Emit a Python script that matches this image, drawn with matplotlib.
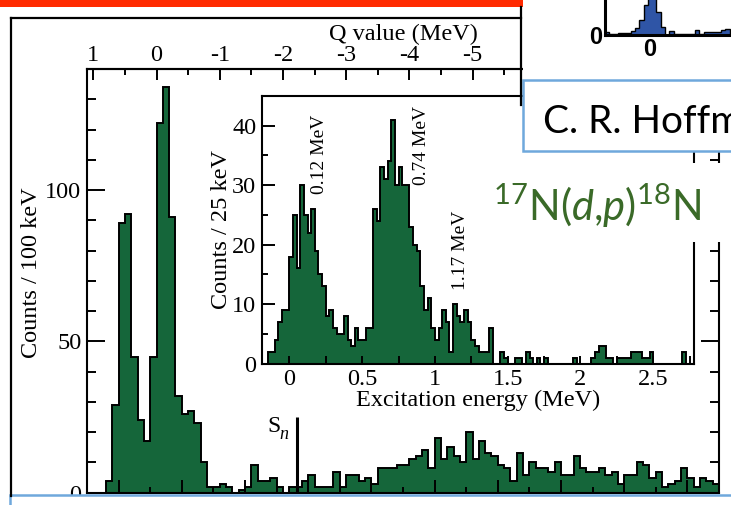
import numpy as np
import matplotlib
matplotlib.use("Agg")
import matplotlib.pyplot as plt
from matplotlib.patches import Rectangle
from matplotlib.ticker import MultipleLocator, FuncFormatter

# ===== 数据 =====
# 主谱：100 keV 一格，从 Ex = -0.2 MeV 开始
MAIN_START = -0.2
MAIN_WIDTH = 0.1
main_counts = [4, 29, 89, 92, 45, 24, 17, 45, 122, 134,
               91, 32, 26, 27, 23, 10, 2, 2, 3, 2,
               0, 1, 2, 9, 4, 4, 5, 2, 0, 2,
               2, 4, 6, 2, 2, 2, 7, 2, 6, 6,
               4, 5, 3, 8, 8, 8, 9, 9, 11, 12,
               14, 8, 18, 11, 15, 12, 10, 20, 11, 17,
               13, 12, 9, 8, 4, 13, 6, 10, 8, 8,
               7, 10, 6, 6, 12, 8, 7, 7, 8, 6,
               7, 3, 6, 6, 10, 9, 5, 7, 2, 3,
               4, 8, 5, 2, 5, 4, 3]

# 插图：25 keV 一格，从 Ex = -0.15 MeV 开始
INSET_START = -0.15
INSET_WIDTH = 0.025
inset_counts = [2, 2, 4, 7, 9, 9, 18, 25, 16, 30,
                25, 22, 26, 19, 15, 13, 8, 9, 6, 5,
                5, 8, 4, 3, 6, 4, 4, 6, 6, 26,
                24, 33, 31, 34, 41, 30, 33, 30, 30, 23,
                20, 19, 13, 9, 11, 6, 4, 6, 9, 7,
                2, 10, 8, 7, 9, 7, 4, 3, 2, 2,
                2, 6, 0, 0, 2, 1, 0, 0, 1, 1,
                0, 2, 1, 0, 1, 0, 1, 0, 0, 0,
                0, 0, 0, 0, 1, 0, 0, 0, 0, 1,
                2, 3, 3, 1, 1, 0, 1, 1, 1, 1,
                2, 2, 2, 1, 1, 2, 0, 0, 0, 0,
                0, 0, 0, 0, 2, 0]

# 右上角蓝色小谱（截图残片）
BLUE_START = -10.5
blue_counts = [3, 1, 1, 2, 2, 2, 4, 7, 15, 30,
               45, 45, 23, 8, 0, 4, 1, 1, 1, 1,
               1, 5, 1, 3, 3, 3, 3, 5, 6]

Q_GS = 0.6          # 基态 Q 值 (MeV)
SN_ENERGY = 2.83    # 中子分离能
SN_HEIGHT = 25

peak_labels = ["0.12 MeV", "0.74 MeV", "1.17 MeV"]
peak_label_x = [0.21, 0.91, 1.175]
peak_label_y = [28.5, 30.0, 12.3]

GREEN = "#15663a"
W, H = 731, 505

plt.rcParams['font.family'] = ['Liberation Serif', 'DejaVu Serif']
plt.rcParams['axes.unicode_minus'] = False
plt.rcParams['mathtext.fontset'] = 'custom'
plt.rcParams['mathtext.rm'] = 'Lato'
plt.rcParams['mathtext.it'] = 'Lato:italic'
plt.rcParams['mathtext.bf'] = 'Lato:bold'

fig = plt.figure(figsize=(W / 100, H / 100), dpi=100)
fs = 17.5

# ===== 主图 =====
ax = fig.add_axes([87 / W, 12.3 / H, 632 / W, 423.7 / H], zorder=1)
edges = MAIN_START + MAIN_WIDTH * np.arange(len(main_counts) + 1)
ax.stairs(main_counts, edges, fill=True, facecolor=GREEN, edgecolor='black', linewidth=1.4)
ax.vlines(SN_ENERGY, 0, SN_HEIGHT, color='black', linewidth=2.2)
ax.text(2.46, 21.9, "S", fontsize=17, ha='center', va='center')
ax.text(2.615, 19.2, "n", fontsize=13, style='italic', ha='center', va='center')
ax.set_xlim(-0.5, 9.5)
ax.set_ylim(0, 140)
for s in ax.spines.values():
    s.set_linewidth(1.5)
ax.xaxis.set_major_locator(MultipleLocator(1))
ax.xaxis.set_minor_locator(MultipleLocator(0.5))
ax.yaxis.set_major_locator(MultipleLocator(50))
ax.yaxis.set_minor_locator(MultipleLocator(10))
ax.tick_params(axis='x', which='both', direction='in', labelbottom=False, width=1.4)
ax.tick_params(axis='x', which='major', length=9.5)
ax.tick_params(axis='x', which='minor', length=4.5)
ax.tick_params(axis='y', which='both', direction='in', right=True, width=1.4,
               labelsize=fs, pad=4)
ax.tick_params(axis='y', which='major', length=13)
ax.tick_params(axis='y', which='minor', length=6.5)
ax.set_ylabel("Counts / 100 keV", fontsize=fs)
ax.yaxis.set_label_coords(-0.071, 0.52)

sec = ax.secondary_xaxis('top', functions=(lambda e: Q_GS - e, lambda q: Q_GS - q))
sec.xaxis.set_major_locator(MultipleLocator(1))
sec.xaxis.set_minor_locator(MultipleLocator(0.5))
sec.xaxis.set_major_formatter(FuncFormatter(lambda v, p: f"{int(round(v))}"))
sec.tick_params(which='both', direction='in', width=1.4, labelsize=fs, pad=2)
sec.tick_params(which='major', length=8)
sec.tick_params(which='minor', length=4)
sec.spines['top'].set_linewidth(1.5)
sec.set_xlabel("Q value (MeV)", fontsize=fs, labelpad=4)

# ===== 插图 =====
ins = fig.add_axes([261.7 / W, (H - 363.5) / H, 432.3 / W, 267.5 / H], zorder=2)
ins.set_facecolor('white')
iedges = INSET_START + INSET_WIDTH * np.arange(len(inset_counts) + 1)
ins.stairs(inset_counts, iedges, fill=True, facecolor=GREEN, edgecolor='black', linewidth=1.4)
ins.set_xlim(-0.19, 2.78)
ins.set_ylim(0, 45)
for s in ins.spines.values():
    s.set_linewidth(1.5)
ins.xaxis.set_major_locator(MultipleLocator(0.5))
ins.xaxis.set_minor_locator(MultipleLocator(0.25))
ins.xaxis.set_major_formatter(FuncFormatter(lambda v, p: f"{v:g}"))
ins.yaxis.set_major_locator(MultipleLocator(10))
ins.yaxis.set_minor_locator(MultipleLocator(5))
ins.tick_params(which='both', direction='in', width=1.4, labelsize=fs, pad=4)
ins.tick_params(axis='x', which='both', length=6)
ins.tick_params(axis='y', which='major', length=9)
ins.tick_params(axis='y', which='minor', length=4.5)
ins.set_xlabel("Excitation energy (MeV)", fontsize=fs, labelpad=0)
ins.set_ylabel("Counts / 25 keV", fontsize=fs)
ins.yaxis.set_label_coords(-0.068, 0.5)
for lab, px, py in zip(peak_labels, peak_label_x, peak_label_y):
    ins.text(px, py, lab, rotation=90, fontsize=14, ha='center', va='bottom')

# ===== 幻灯片上的叠加元素（像素坐标） =====
ov = fig.add_axes([0, 0, 1, 1], zorder=3)
ov.set_xlim(0, W)
ov.set_ylim(H, 0)
ov.axis('off')
ov.patch.set_alpha(0)
ov.add_patch(Rectangle((0, 0), 524, 7, facecolor='#ff2a00', edgecolor='none'))
ov.plot([11, 521], [18, 18], color='black', lw=1.6)
ov.plot([11, 11], [18, 496], color='black', lw=1.6)
ov.plot([521, 521], [7, 105], color='black', lw=1.6)
ov.add_patch(Rectangle((523, 0), 220, 80, facecolor='white', edgecolor='none'))
ov.add_patch(Rectangle((523, 80), 240, 71, facecolor='white', edgecolor='#6fa8dc', lw=1.8))
ov.text(543, 133, "C. R. Hoffman et al.", fontsize=28, family='Lato', color='black',
        ha='left', va='baseline')
ov.add_patch(Rectangle((480, 163), 260, 79, facecolor='white', edgecolor='none'))
ov.text(493, 221, r'$^{17}$N($d$,$p$)$^{18}$N', fontsize=30, family='Lato',
        color='#3a6a28', ha='left', va='baseline')
ov.add_patch(Rectangle((10, 495), 740, 40, facecolor='white', edgecolor='#6fa8dc', lw=1.8))

# ===== 右上角蓝色残片 =====
bl = fig.add_axes([605 / W, (H - 35) / H, 126 / W, 35 / H], zorder=4)
bl.patch.set_alpha(0)
bedges = BLUE_START + np.arange(len(blue_counts) + 1)
bl.stairs(blue_counts, bedges, fill=True, facecolor='#2f55a6', edgecolor='black', linewidth=1.0)
bl.set_xlim(-10.47, 18.83)
bl.set_ylim(0, 35)
bl.spines['top'].set_visible(False)
bl.spines['right'].set_visible(False)
bl.spines['left'].set_linewidth(2.2)
bl.spines['bottom'].set_linewidth(2.2)
bl.set_xticks([0])
bl.set_yticks([0])
bl.tick_params(length=0, labelsize=17, pad=2)
for t in bl.get_xticklabels() + bl.get_yticklabels():
    t.set_family(['Liberation Sans Narrow', 'Liberation Sans'])
    t.set_fontweight('bold')

fig.savefig("out.png", dpi=100)
